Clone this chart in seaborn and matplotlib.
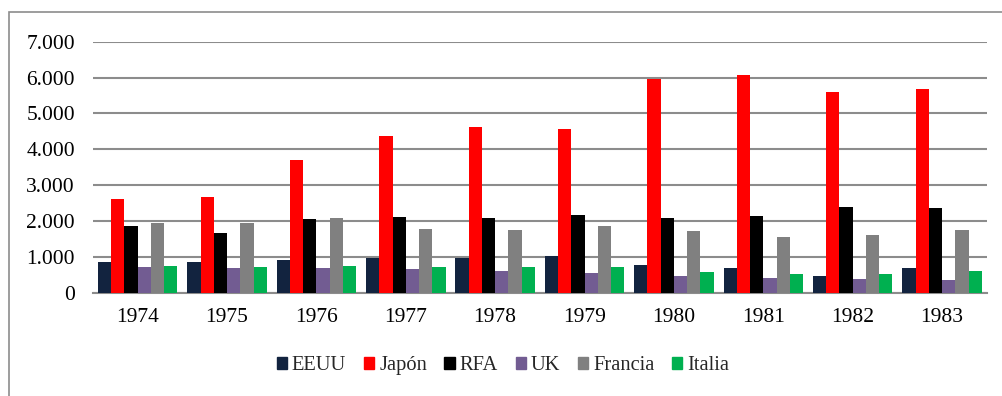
import matplotlib
matplotlib.use("Agg")
import matplotlib.pyplot as plt
from matplotlib.ticker import FuncFormatter
from matplotlib.patches import Rectangle
from matplotlib import font_manager as fm
import seaborn as sns
import pandas as pd

years = ["1974", "1975", "1976", "1977", "1978", "1979", "1980", "1981", "1982", "1983"]
countries = ["EEUU", "Japón", "RFA", "UK", "Francia", "Italia"]
eeuu    = [864, 856, 903, 959, 960, 1032, 764, 697, 474, 697]
japon   = [2613, 2677, 3709, 4361, 4612, 4573, 5968, 6062, 5597, 5672]
rfa     = [1868, 1656, 2055, 2119, 2074, 2175, 2074, 2147, 2398, 2362]
uk      = [725, 689, 680, 661, 605, 541, 474, 418, 390, 354]
francia = [1952, 1935, 2091, 1768, 1740, 1860, 1712, 1545, 1601, 1748]
italia  = [736, 708, 753, 708, 708, 725, 586, 513, 521, 597]
colors = ["#12233F", "#FF0000", "#000000", "#725C92", "#808080", "#00B050"]

series = [eeuu, japon, rfa, uk, francia, italia]
rows = []
for c, vals in zip(countries, series):
    for y, v in zip(years, vals):
        rows.append({"year": y, "country": c, "value": v})
df = pd.DataFrame(rows)

sns.set_theme(style="white")
plt.rcParams["font.family"] = "serif"
plt.rcParams["font.serif"] = ["Liberation Serif", "DejaVu Serif"]
plt.rcParams["font.size"] = 14.5

fpath = fm.findfont(fm.FontProperties(family="Liberation Serif"))
fp_tick = fm.FontProperties(fname=fpath, size=15.5)
fp_leg = fm.FontProperties(fname=fpath, size=14.8)

fig = plt.figure(figsize=(10.03, 3.96), dpi=100)
ax = fig.add_axes([93 / 1003, 1 - 292.7 / 396, (986.7 - 93) / 1003, (292.7 - 41.7) / 396])

sns.barplot(data=df, x="year", y="value", hue="country", order=years, hue_order=countries,
            palette=colors, width=0.89, ax=ax, saturation=1, linewidth=0, zorder=3)

ax.set_ylim(0, 7000)
ax.set_yticks(range(0, 7001, 1000))
ax.yaxis.set_major_formatter(FuncFormatter(lambda v, p: f"{int(v):,}".replace(",", ".")))
ax.yaxis.grid(True, color="#8C8C8C", linewidth=1.5, zorder=0)
ax.set_axisbelow(True)
for s in ["left", "right", "top"]:
    ax.spines[s].set_visible(False)
ax.spines["bottom"].set_color("#8C8C8C")
ax.spines["bottom"].set_linewidth(1.5)
ax.set_xlabel("")
ax.set_ylabel("")
ax.tick_params(axis="y", length=0, pad=13, colors="#000000")
ax.tick_params(axis="x", length=0, pad=11, colors="#000000")
for lab in ax.get_xticklabels() + ax.get_yticklabels():
    lab.set_fontproperties(fp_tick)

ax.get_legend().remove()
handles = [Rectangle((0, 0), 1, 1, color=c) for c in colors]
fig.legend(handles, countries, loc="center", bbox_to_anchor=(503 / 1003, 1 - 365.7 / 396),
           ncol=6, frameon=False, handlelength=0.5, handleheight=0.5, handletextpad=0.25,
           columnspacing=0.85, prop=fp_leg)

border = Rectangle((9.5 / 1003, -0.1), 1.2, 1 - 12 / 396 + 0.1, transform=fig.transFigure,
                   fill=False, edgecolor="#8C8C8C", linewidth=1.2)
fig.add_artist(border)

fig.savefig("out.png", dpi=100)
